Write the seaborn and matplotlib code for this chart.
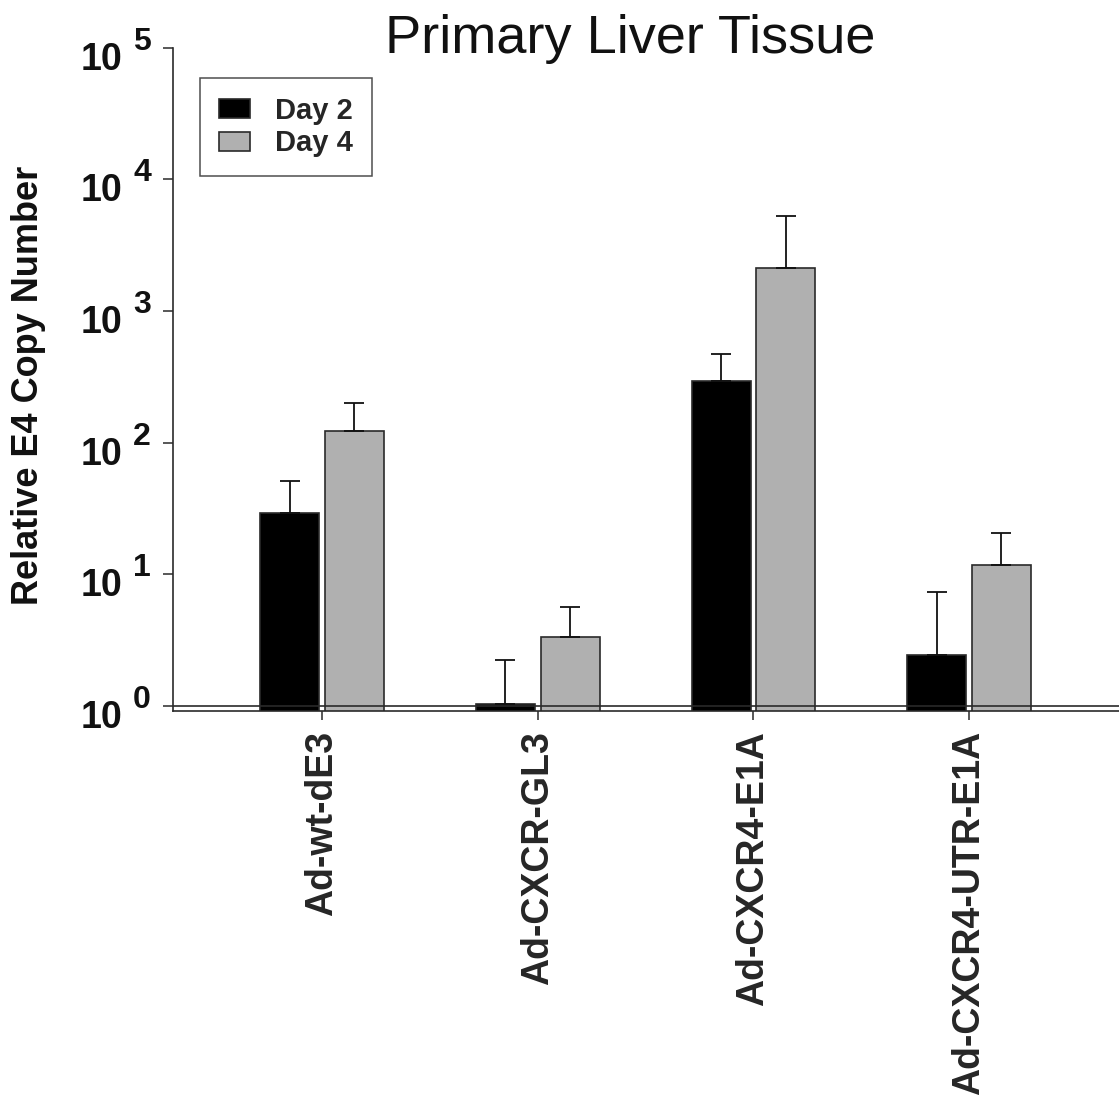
import numpy as np
import pandas as pd
import matplotlib
matplotlib.use("Agg")
import matplotlib.pyplot as plt
from matplotlib.transforms import blended_transform_factory, offset_copy
from matplotlib.ticker import NullLocator, FixedLocator
import seaborn as sns

# ---- data ----
categories = ["Ad-wt-dE3", "Ad-CXCR-GL3", "Ad-CXCR4-E1A", "Ad-CXCR4-UTR-E1A"]
series_names = ["Day 2", "Day 4"]
day2 = [29.2, 1.03, 296, 2.44]
day2_err_top = [50.8, 2.24, 475, 7.36]
day4 = [122, 3.37, 2140, 11.8]
day4_err_top = [199, 5.69, 5230, 20.7]
ytick_exponents = [0, 1, 2, 3, 4, 5]
title = "Primary Liver Tissue"
ylabel = "Relative E4 Copy Number"

sns.set_theme(style="ticks")
plt.rcParams["font.family"] = ["Liberation Sans", "DejaVu Sans"]

W, H = 1119, 1100
fig = plt.figure(figsize=(W / 100, H / 100), dpi=100)
ax_left, ax_bottom, ax_top = 173, 711, 47.7
ax = fig.add_axes([ax_left / W, 1 - ax_bottom / H, (W - ax_left) / W, (ax_bottom - ax_top) / H])

df = pd.DataFrame({
    "category": categories * 2,
    "day": [series_names[0]] * len(categories) + [series_names[1]] * len(categories),
    "value": day2 + day4,
})

edge = "#2a2a2a"
sns.barplot(data=df, x="category", y="value", hue="day", order=categories,
            hue_order=series_names, palette=["#000000", "#b0b0b0"],
            width=0.6, gap=0.087, edgecolor=edge, linewidth=1.2,
            errorbar=None, ax=ax, zorder=2)
ax.set_yscale("log")

# upper-only error bars at the bar centres
for cont, vals, tops in zip(ax.containers, [day2, day4], [day2_err_top, day4_err_top]):
    xs = [r.get_x() + r.get_width() / 2 for r in cont]
    vals = np.array(vals)
    tops = np.array(tops)
    ax.errorbar(xs, vals, yerr=[np.zeros_like(vals), tops - vals], fmt="none",
                ecolor="#111111", elinewidth=1.3, capsize=7.2, capthick=1.3, zorder=3)

dec = 131.5
ymin = 10 ** (-(ax_bottom - 706) / dec)
ax.set_ylim(ymin, 1e5)
ax.set_xlim(-0.691, 3.695)

ax.axhline(1, color=edge, lw=1.2, zorder=5)

for s in ["top", "right"]:
    ax.spines[s].set_visible(False)
for s in ["left", "bottom"]:
    ax.spines[s].set_color(edge)
    ax.spines[s].set_linewidth(1.2)

ax.yaxis.set_major_locator(FixedLocator([10.0 ** e for e in ytick_exponents]))
ax.yaxis.set_minor_locator(NullLocator())
ax.set_yticklabels([])
ax.tick_params(axis="y", which="major", left=True, length=7.2, width=1.1, color=edge, direction="out")
ax.tick_params(axis="x", bottom=True, length=6.5, width=1.1, color=edge, direction="out", pad=8)
ax.set_xticks(range(len(categories)))
ax.set_xticklabels(categories, rotation=90, fontsize=27, fontweight="bold", ha="center", va="top")
ax.set_xlabel("")
ax.set_ylabel("")

# y tick labels "10" with raised exponent
tr = blended_transform_factory(ax.transAxes, ax.transData)
tr10 = offset_copy(tr, fig=fig, x=-51, y=6, units="dots")
trexp = offset_copy(tr, fig=fig, x=-40, y=-2, units="dots")
for e in ytick_exponents:
    ax.text(0, 10.0 ** e, "10", transform=tr10, ha="right", va="top",
            fontsize=27, fontweight="bold", color="#111111", clip_on=False)
    ax.text(0, 10.0 ** e, str(e), transform=trexp, ha="left", va="baseline",
            fontsize=23, fontweight="bold", color="#111111", clip_on=False)

# legend
handles, labels = ax.get_legend_handles_labels()
leg = ax.legend(handles, labels, loc="upper left",
                bbox_to_anchor=((200 - ax_left) / (W - ax_left), (ax_bottom - 78) / (ax_bottom - ax_top)),
                borderaxespad=0, frameon=True, fancybox=False, edgecolor="#222222",
                prop={"size": 21, "weight": "bold"}, handlelength=1.07, handleheight=0.62,
                handletextpad=0.85, labelspacing=0.15, borderpad=0.65, title=None)
leg.get_frame().set_linewidth(1.1)

fig.text(630 / W, 1 - 53 / H, title, ha="center", va="baseline", fontsize=39, color="#111111")
fig.text(29 / W, 1 - 385 / H, ylabel, rotation=90, ha="center", va="center",
         fontsize=26, fontweight="bold", color="#111111")

fig.savefig("out.png", dpi=100, facecolor="white")
